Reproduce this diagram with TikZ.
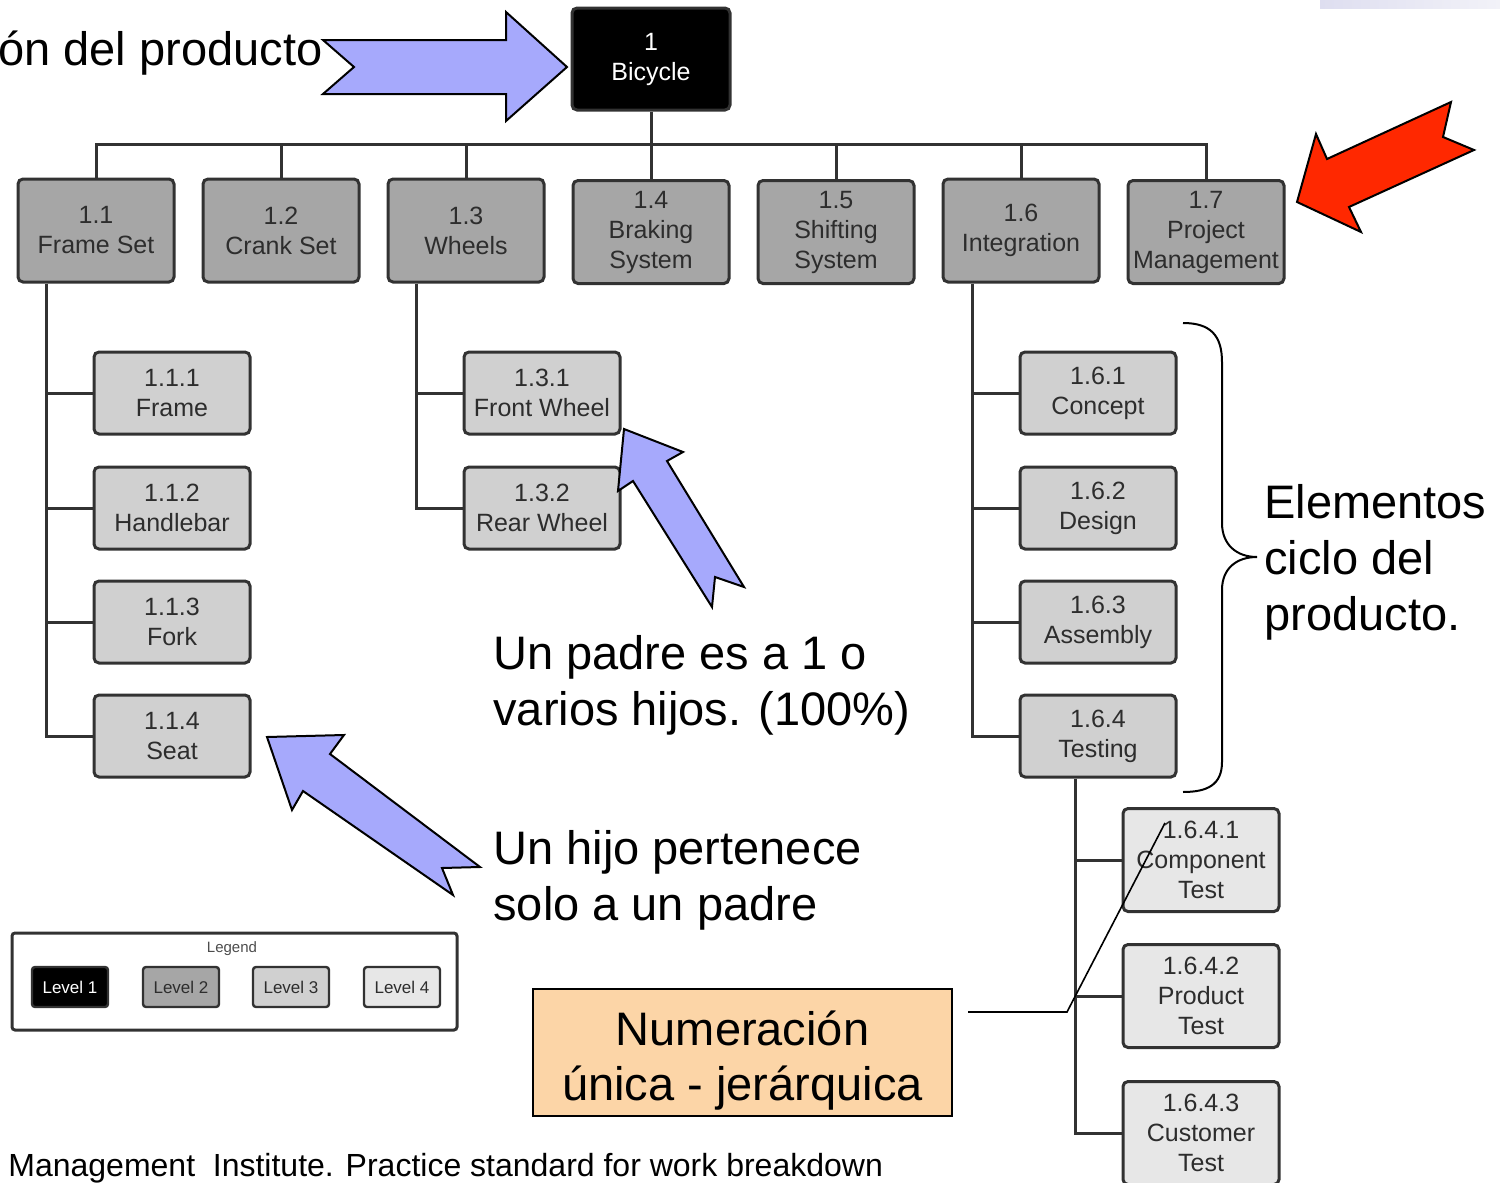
\documentclass[tikz,border=0pt]{standalone}
\usepackage{fontspec}
\setmainfont{Liberation Sans}
\definecolor{gtwo}{RGB}{166,166,166}
\definecolor{gthree}{RGB}{208,208,208}
\definecolor{gfour}{RGB}{231,231,231}
\definecolor{linegray}{RGB}{50,50,50}
\definecolor{txtgray}{RGB}{45,45,45}
\definecolor{arrowblue}{RGB}{166,169,252}
\definecolor{arrowred}{RGB}{255,40,0}
\definecolor{peach}{RGB}{252,213,167}
\definecolor{stripa}{RGB}{222,222,240}
\definecolor{stripb}{RGB}{242,242,248}
\tikzset{
  wbs/.style={draw=linegray, line width=1.5pt, rounded corners=2.5pt, align=center,
    inner sep=0pt, font=\fontsize{12.5}{15}\selectfont, text=txtgray},
  lone/.style={wbs, fill=black, text=white, minimum width=79pt, minimum height=51pt},
  ltwo/.style={wbs, fill=gtwo, minimum width=78pt, minimum height=51.5pt},
  lthree/.style={wbs, fill=gthree, minimum width=78pt, minimum height=41pt},
  lfour/.style={wbs, fill=gfour, minimum width=78pt, minimum height=51.5pt},
  legbox/.style={wbs, line width=1.2pt, rounded corners=1.5pt, minimum width=38pt, minimum height=20pt,
    font=\fontsize{8.5}{10}\selectfont},
  conn/.style={draw=linegray, line width=1.5pt},
  bigtext/.style={font=\fontsize{23.5}{28}\selectfont, anchor=base west, inner sep=0pt},
  callout/.style={draw=black, line width=1pt, line join=miter},
}
\begin{document}
\begin{tikzpicture}[x=0.5pt,y=-0.5pt]
\useasboundingbox (0,0) rectangle (1500,1183);
\fill[left color=stripa, right color=stripb] (1320,0) rectangle (1500,8);

% ---------- WBS nodes ----------
\node[lone] (n1) at (651,59) {1\\Bicycle};
\node[ltwo] (n11) at (96,230.5) {1.1\\Frame Set};
\node[ltwo] (n12) at (281,230.5) {1.2\\Crank Set};
\node[ltwo] (n13) at (466,230.5) {1.3\\Wheels};
\node[ltwo] (n14) at (651,232) {1.4\\Braking\\System};
\node[ltwo] (n15) at (836,232) {1.5\\Shifting\\System};
\node[ltwo] (n16) at (1021,230.5) {1.6\\Integration};
\node[ltwo] (n17) at (1206,232) {1.7\\Project\\Management};

\node[lthree] (n111) at (172,393) {1.1.1\\Frame};
\node[lthree] (n112) at (172,508) {1.1.2\\Handlebar};
\node[lthree] (n113) at (172,622) {1.1.3\\Fork};
\node[lthree] (n114) at (172,736) {1.1.4\\Seat};

\node[lthree] (n131) at (542,393) {1.3.1\\Front Wheel};
\node[lthree] (n132) at (542,508) {1.3.2\\Rear Wheel};

\node[lthree] (n161) at (1098,393) {1.6.1\\Concept};
\node[lthree] (n162) at (1098,508) {1.6.2\\Design};
\node[lthree] (n163) at (1098,622) {1.6.3\\Assembly};
\node[lthree] (n164) at (1098,736) {1.6.4\\Testing};

\node[lfour] (n1641) at (1201,860) {1.6.4.1\\Component\\Test};
\node[lfour] (n1642) at (1201,996) {1.6.4.2\\Product\\Test};
\node[lfour] (n1643) at (1201,1133) {1.6.4.3\\Customer\\Test};

% ---------- connectors ----------
\coordinate (bar) at (0,144);
\draw[conn] (n1.south) -- (n14.north);
\draw[conn] (n11.north) -- (n11.north |- bar) -- (n17.north |- bar) -- (n17.north);
\foreach \n in {n12,n13,n15,n16}{\draw[conn] (\n.north) -- (\n.north |- bar);}
\coordinate (s11) at ([xshift=15pt]n11.south west);
\coordinate (s13) at ([xshift=15pt]n13.south west);
\coordinate (s16) at ([xshift=15.5pt]n16.south west);
\coordinate (s164) at ([xshift=28.5pt]n164.south west);
\draw[conn] (s11) |- (n114.west);
\foreach \n in {n111,n112,n113}{\draw[conn] (s11 |- \n.west) -- (\n.west);}
\draw[conn] (s13) |- (n132.west);
\draw[conn] (s13 |- n131.west) -- (n131.west);
\draw[conn] (s16) |- (n164.west);
\foreach \n in {n161,n162,n163}{\draw[conn] (s16 |- \n.west) -- (\n.west);}
\draw[conn] (s164) |- (n1643.west);
\foreach \n in {n1641,n1642}{\draw[conn] (s164 |- \n.west) -- (\n.west);}

% ---------- legend ----------
\node[draw=linegray, line width=1.5pt, rounded corners=1.5pt, minimum width=222.5pt,
  minimum height=48.5pt, inner sep=0pt] (legend) at (234.5,981.5) {};
\node[font=\fontsize{7.5}{9}\selectfont, text=black!70, inner sep=0pt] (legtitle) at (232,949) {Legend};
\node[legbox, fill=black, text=white] (lg1) at (70,987) {Level 1};
\node[legbox, fill=gtwo] (lg2) at (181,987) {Level 2};
\node[legbox, fill=gthree] (lg3) at (291,987) {Level 3};
\node[legbox, fill=gfour] (lg4) at (402,987) {Level 4};

% ---------- annotation arrows ----------
\filldraw[callout, fill=arrowblue] (323,40) -- (506,40) -- (506,12) -- (567,67) -- (506,121)
  -- (506,94) -- (323,94) -- (354,67) -- cycle;
\filldraw[callout, fill=arrowred] (1297,202) -- (1316,134) -- (1327,159) -- (1451,102)
  -- (1443,137) -- (1474,150) -- (1349,207) -- (1361,232) -- cycle;
\filldraw[callout, fill=arrowblue] (624,429) -- (683,452) -- (667,461) -- (744,587)
  -- (715,577) -- (712,607) -- (633,481) -- (618,491) -- cycle;
\filldraw[callout, fill=arrowblue] (267,737) -- (344,735) -- (330,754) -- (480,867)
  -- (442,868) -- (453,895) -- (303,791) -- (292,810) -- cycle;

% ---------- brace ----------
\draw[line width=1pt] (1183,323) .. controls (1210,323) and (1222,335) .. (1222,362)
  -- (1222,523) .. controls (1222,545) and (1237,557) .. (1257,557)
  .. controls (1237,557) and (1222,568) .. (1222,590)
  -- (1222,762) .. controls (1222,785) and (1207,792) .. (1183,792);

% ---------- texts ----------
\node[bigtext] (t0) at (-2,65) {ón del producto};
\node[bigtext] (ta1) at (493,669) {Un padre es a 1 o};
\node[bigtext] (ta2) at (493,725) {varios hijos. (100\%)};
\node[bigtext] (tb1) at (493,864) {Un hijo pertenece};
\node[bigtext] (tb2) at (493,920) {solo a un padre};
\node[bigtext] (tc1) at (1264,518) {Elementos};
\node[bigtext] (tc2) at (1264,574) {ciclo del};
\node[bigtext] (tc3) at (1264,630) {producto.};
\node[draw=black, line width=0.8pt, fill=peach, minimum width=209.5pt, minimum height=63.5pt,
  inner sep=0pt] (num) at (742.5,1052.5) {};
\node[font=\fontsize{23.5}{28}\selectfont, anchor=base, inner sep=0pt] (num1) at (742.5,1045) {Numeración};
\node[font=\fontsize{23.5}{28}\selectfont, anchor=base, inner sep=0pt] (num2) at (742.5,1100) {única - jerárquica};
\node[font=\fontsize{16}{19}\selectfont, anchor=base west, inner sep=0pt] (cite) at (8,1176)
  {Management\ \ Institute. Practice standard for work breakdown};

% ---------- pointer line ----------
\coordinate (p1) at (968,1012);
\coordinate (p2) at (1067,1012);
\coordinate (p3) at (1165,823);
\draw[line width=0.8pt] (p1) -- (p2) -- (p3);
\end{tikzpicture}
\end{document}
